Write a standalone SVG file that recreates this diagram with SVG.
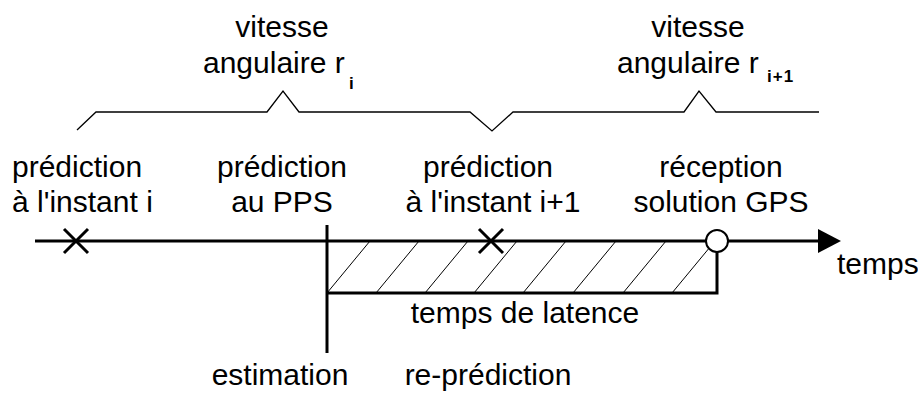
<svg xmlns="http://www.w3.org/2000/svg" width="918" height="394" viewBox="0 0 918 394">
<style>
text{font-family:"Liberation Sans",Arial,sans-serif;font-size:30px;fill:#000}
.c{text-anchor:middle}
.sub{font-size:17px;font-weight:bold}
.thick{stroke:#000;stroke-width:3;fill:none}
.thin{stroke:#000;stroke-width:1.3;fill:none}
.hatch{stroke:#000;stroke-width:1;fill:none}
</style>
<defs>
<clipPath id="hclip"><rect x="328" y="241" width="389" height="52"/></clipPath>
</defs>
<rect width="918" height="394" fill="#fff"/>
<g id="braces">
<polyline class="thin" points="77,130 96,112 267,112 283,91 299,112 470,112 492,131 513,112 684,112 699,91 716,112 819,112"/>
</g>
<g id="latency-area">
<g clip-path="url(#hclip)" class="hatch">
<line x1="370" y1="241" x2="327" y2="293"/>
<line x1="419" y1="241" x2="376" y2="293"/>
<line x1="468" y1="241" x2="425" y2="293"/>
<line x1="517" y1="241" x2="474" y2="293"/>
<line x1="566" y1="241" x2="523" y2="293"/>
<line x1="616" y1="241" x2="573" y2="293"/>
<line x1="666" y1="241" x2="623" y2="293"/>
<line x1="715" y1="241" x2="672" y2="293"/>
</g>
<polyline class="thick" points="327,293 717,293 717,250"/>
</g>
<g id="connectors">
<line class="thick" x1="35" y1="241" x2="820" y2="241"/>
<polygon points="818,229 841,241 818,253" fill="#000"/>
<line class="thick" x1="327" y1="225" x2="327" y2="353"/>
</g>
<g id="mark-i">
<path class="thick" d="M64,229 L88,253 M88,229 L64,253"/>
</g>
<g id="mark-i1">
<path class="thick" d="M479,229 L503,253 M503,229 L479,253"/>
</g>
<g id="gps-reception">
<circle cx="717" cy="241" r="11" fill="#fff" stroke="#000" stroke-width="2"/>
</g>
<g id="label-ri">
<text class="c" x="282" y="37">vitesse</text>
<text x="203" y="73">angulaire r</text>
<text class="sub" x="349" y="89">i</text>
</g>
<g id="label-ri1">
<text class="c" x="698" y="37">vitesse</text>
<text x="617" y="73">angulaire r</text>
<text class="sub" x="767" y="82" letter-spacing="1">i+1</text>
</g>
<g id="label-pred-i">
<text x="12" y="177">prédiction</text>
<text x="12" y="212">à l'instant i</text>
</g>
<g id="label-pred-pps">
<text class="c" x="282" y="177">prédiction</text>
<text class="c" x="282" y="212">au PPS</text>
</g>
<g id="label-pred-i1">
<text class="c" x="488" y="177">prédiction</text>
<text class="c" x="493" y="212">à l'instant i+1</text>
</g>
<g id="label-gps">
<text class="c" x="721" y="177">réception</text>
<text class="c" x="721" y="212">solution GPS</text>
</g>
<g id="label-temps">
<text x="837" y="274">temps</text>
</g>
<g id="label-latence">
<text class="c" x="525" y="323">temps de latence</text>
</g>
<g id="label-estimation">
<text class="c" x="280" y="385">estimation</text>
</g>
<g id="label-reprediction">
<text class="c" x="488" y="385">re-prédiction</text>
</g>
</svg>
